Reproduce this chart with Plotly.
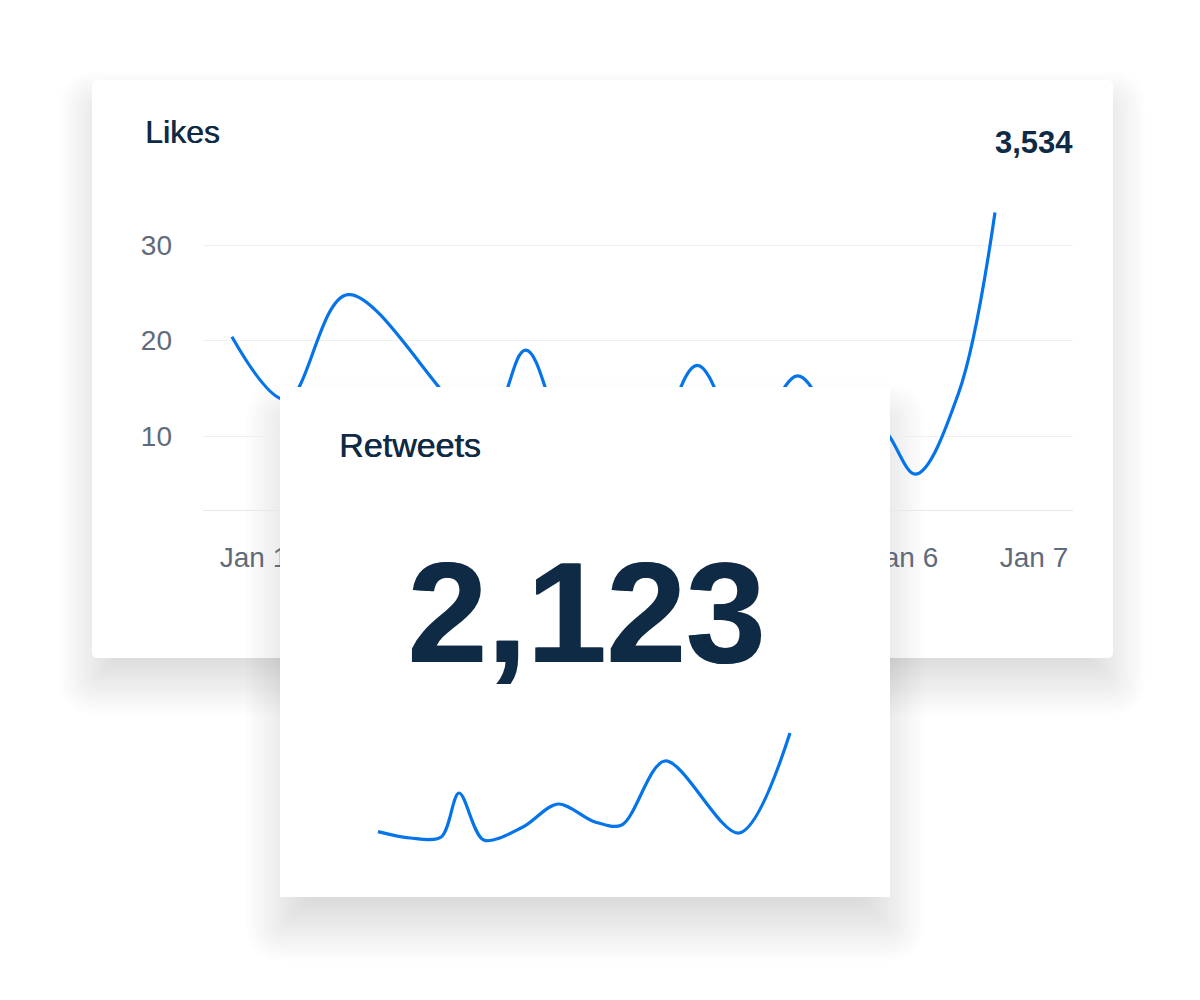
import plotly.graph_objects as go

# ---------------- data ----------------
likes_title = "Likes"
likes_total = "3,534"
likes_days = [0.83, 1.25, 1.72, 2.78, 3.09, 3.47, 4.01, 4.41, 4.79, 5.18, 5.51, 5.82, 6.09, 6.42, 6.70]
likes_values = [20.4, 13.8, 24.8, 11.0, 19.0, 8.5, 8.0, 17.4, 9.0, 16.3, 10.8, 10.9, 6.0, 14.5, 33.4]
likes_ticks = [10, 20, 30]
day_ticks = [1, 2, 3, 4, 5, 6, 7]
day_labels = ["Jan 1", "Jan 2", "Jan 3", "Jan 4", "Jan 5", "Jan 6", "Jan 7"]

rt_title = "Retweets"
rt_total = "2,123"
rt_days = [1.00, 1.47, 1.92, 2.18, 2.54, 3.11, 3.62, 4.16, 4.55, 5.18, 6.26, 7.00]
rt_values = [19.2, 16.0, 16.5, 38.5, 15.0, 21.5, 33.0, 24.0, 22.5, 54.5, 18.5, 68.5]

# ---------------- layout helpers (screen px -> paper) ----------------
W, H = 1184, 984
OFF = 8
def X(sx):
    return (sx - OFF) / W
def Y(sy):
    return 1 - (sy - OFF) / H

def rrect(x0, y0, x1, y1, r):
    r = max(0.5, r)
    p = [
        f"M {X(x0 + r)},{Y(y0)}",
        f"L {X(x1 - r)},{Y(y0)}",
        f"Q {X(x1)},{Y(y0)} {X(x1)},{Y(y0 + r)}",
        f"L {X(x1)},{Y(y1 - r)}",
        f"Q {X(x1)},{Y(y1)} {X(x1 - r)},{Y(y1)}",
        f"L {X(x0 + r)},{Y(y1)}",
        f"Q {X(x0)},{Y(y1)} {X(x0)},{Y(y1 - r)}",
        f"L {X(x0)},{Y(y0 + r)}",
        f"Q {X(x0)},{Y(y0)} {X(x0 + r)},{Y(y0)}",
        "Z",
    ]
    return " ".join(p)

def shadow(x0, y0, x1, y1, dy, blur, total, n=20):
    out = []
    a = total / n
    for i in range(n):
        e = -blur + 2 * blur * (i + 0.5) / n
        out.append(dict(type="path", xref="paper", yref="paper", layer="below",
                        path=rrect(x0 - e, y0 - e + dy, x1 + e, y1 + e + dy, 6 + max(e, -4)),
                        fillcolor=f"rgba(0,0,0,{a:.4f})", line=dict(width=0)))
    return out

# card geometry (screen px)
LC = (92, 80, 1113, 658)
RC = (280, 387, 890, 897)

shapes = []
shapes += shadow(*LC, dy=24, blur=34, total=0.17)
shapes.append(dict(type="path", xref="paper", yref="paper", layer="below",
                   path=rrect(*LC, 6), fillcolor="white", line=dict(width=0)))
shapes += shadow(*RC, dy=30, blur=36, total=0.19)

BLUE = "#0574E9"
NAVY = "#0f2a45"
GRAY = "#5f6b7a"
FONT = "Liberation Sans, Arial, Helvetica, sans-serif"
MEDIUM = f"0.6px 0px 0px {NAVY}"

fig = go.Figure()
fig.add_trace(go.Scatter(x=likes_days, y=likes_values, mode="lines",
                         line=dict(color=BLUE, width=3.2, shape="spline", smoothing=1.0),
                         xaxis="x", yaxis="y", hoverinfo="skip", showlegend=False))
fig.add_trace(go.Scatter(x=rt_days, y=rt_values, mode="lines",
                         line=dict(color=BLUE, width=3.2, shape="spline", smoothing=0.9),
                         xaxis="x2", yaxis="y2", hoverinfo="skip", showlegend=False))

px_per_day = 130.0
x_r0 = 1 - (254 - 203) / px_per_day
x_r1 = x_r0 + (1073 - 203) / px_per_day
ppu = 9.55
y_lo = 30 - (510 - 245) / ppu
y_hi = 30 + (245 - 188) / ppu

rt_ppd = (790 - 378) / 6.0
rx0 = 1 - (378 - 280) / rt_ppd
rx1 = 7 + (890 - 790) / rt_ppd

annotations = [
    dict(text=likes_title, x=X(143), y=Y(132), xref="paper", yref="paper",
         xanchor="left", yanchor="middle", showarrow=False,
         font=dict(family=FONT, size=32, color=NAVY, shadow=MEDIUM)),
    dict(text="<b>" + likes_total + "</b>", x=X(1075), y=Y(142), xref="paper", yref="paper",
         xanchor="right", yanchor="middle", showarrow=False,
         font=dict(family=FONT, size=31, color=NAVY)),
    dict(text=rt_title, x=X(337), y=Y(445), xref="paper", yref="paper",
         xanchor="left", yanchor="middle", showarrow=False,
         font=dict(family=FONT, size=34, color=NAVY, shadow=MEDIUM)),
    dict(text="<b>" + rt_total + "</b>", x=X(585.5), y=Y(612), xref="paper", yref="paper",
         xanchor="center", yanchor="middle", showarrow=False,
         font=dict(family=FONT, size=143, color=NAVY, shadow=f"1.5px 0px 0px {NAVY}")),
]

fig.update_layout(
    width=W, height=H,
    margin=dict(l=0, r=0, t=0, b=0),
    paper_bgcolor="white", plot_bgcolor="white",
    shapes=shapes, annotations=annotations,
    showlegend=False,
    xaxis=dict(domain=[X(203), X(1073)], range=[x_r0, x_r1], tickvals=day_ticks,
               ticktext=day_labels, showgrid=False, zeroline=False, showline=True,
               linecolor="#e6e8eb", linewidth=1, ticks="", ticklabelstandoff=22,
               tickfont=dict(family=FONT, size=28, color=GRAY), fixedrange=True),
    yaxis=dict(domain=[Y(510), Y(188)], range=[y_lo, y_hi], tickvals=likes_ticks,
               showgrid=True, gridcolor="#eeeff1", gridwidth=1, zeroline=False,
               showline=False, ticks="", ticklabelstandoff=30,
               tickfont=dict(family=FONT, size=28, color=GRAY), fixedrange=True),
    xaxis2=dict(domain=[X(280), X(890)], range=[rx0, rx1], visible=False,
                anchor="y2", fixedrange=True),
    yaxis2=dict(domain=[Y(897), Y(387)], range=[-13.5, 241.5], visible=False,
                anchor="x2", fixedrange=True),
)

fig.write_html("out.html", config={"displayModeBar": False})
